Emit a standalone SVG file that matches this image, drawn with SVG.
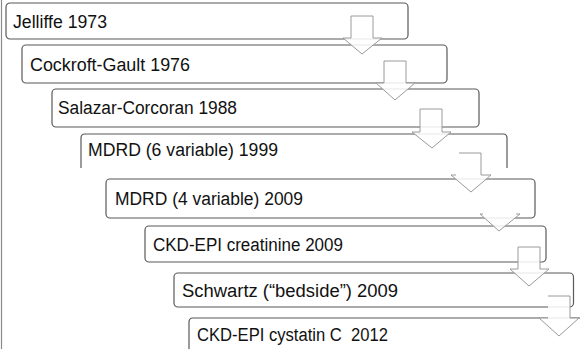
<svg xmlns="http://www.w3.org/2000/svg" width="580" height="349" viewBox="0 0 580 349">
  <defs>
    <style>
      .box { fill: #ffffff; stroke: #595959; stroke-width: 1.2; }
      .lbl { font-family: "Liberation Sans", Arial, sans-serif; font-size: 18px; fill: #111111; }
      .afill { fill: #ffffff; fill-opacity: 0.85; stroke: none; }
      .aline { fill: none; stroke: #9a9a9a; stroke-width: 1; stroke-linejoin: miter; }
      .frame { stroke: #8a8a8a; stroke-width: 1.2; }
    </style>
  </defs>
  <rect width="580" height="349" fill="#ffffff"/>
  <!-- left frame edge -->
  <line class="frame" x1="1.5" y1="0" x2="1.5" y2="349"/>

  <g id="step-jelliffe">
    <rect class="box" x="6" y="3" width="402" height="36" rx="4"/>
    <text class="lbl" x="13" y="28" textLength="94" lengthAdjust="spacingAndGlyphs">Jelliffe 1973</text>
  </g>
  <g id="step-cockroft-gault">
    <rect class="box" x="22" y="45" width="425" height="38" rx="4"/>
    <text class="lbl" x="30" y="71" textLength="160" lengthAdjust="spacingAndGlyphs">Cockroft-Gault 1976</text>
  </g>
  <g id="step-salazar-corcoran">
    <rect class="box" x="52" y="89" width="427" height="38" rx="4"/>
    <text class="lbl" x="58" y="114" textLength="179" lengthAdjust="spacingAndGlyphs">Salazar-Corcoran 1988</text>
  </g>
  <g id="step-mdrd6">
    <path class="box" d="M81,168 V138 Q81,134 85,134 H503 Q507,134 507,138 V168"/>
    <text class="lbl" x="88" y="156" textLength="190" lengthAdjust="spacingAndGlyphs">MDRD (6 variable) 1999</text>
  </g>
  <g id="step-mdrd4">
    <rect class="box" x="106" y="179" width="429" height="39" rx="4"/>
    <text class="lbl" x="115" y="205" textLength="188" lengthAdjust="spacingAndGlyphs">MDRD (4 variable) 2009</text>
  </g>
  <g id="step-ckd-epi-creatinine">
    <rect class="box" x="145" y="226" width="401" height="36" rx="4"/>
    <text class="lbl" x="153" y="251" textLength="190" lengthAdjust="spacingAndGlyphs">CKD-EPI creatinine 2009</text>
  </g>
  <g id="step-schwartz">
    <rect class="box" x="174" y="273" width="399.5" height="34" rx="4"/>
    <text class="lbl" x="182" y="297" textLength="216" lengthAdjust="spacingAndGlyphs">Schwartz (“bedside”) 2009</text>
  </g>
  <g id="step-ckd-epi-cystatin">
    <path class="box" d="M189,352 V322 Q189,318 193,318 H584 V352 Z"/>
    <text class="lbl" x="197" y="341" textLength="191" lengthAdjust="spacingAndGlyphs" xml:space="preserve">CKD-EPI cystatin C  2012</text>
  </g>

  <!-- down arrows between consecutive steps -->
  <g id="connectors">
    <polygon class="afill" points="351,16 373,16 373,38 382,38 362,54 343,38 351,38"/>
    <path class="aline" d="M351,16 H373 V38 H382 L362,54 L343,38 H351 Z"/>

    <polygon class="afill" points="384,61 406,61 406,83 415,83 395,100 376,83 384,83"/>
    <path class="aline" d="M384,61 H406 V83 H415 L395,100 L376,83 H384 Z"/>

    <polygon class="afill" points="420,109 442,109 442,132 451,132 432,148 412,132 420,132"/>
    <path class="aline" d="M420,109 H442 V132 H451 L432,148 L412,132 H420 Z"/>

    <polygon class="afill" points="459,153 481,153 481,175 491,175 471,192 451,175 459,175"/>
    <path class="aline" d="M459,153 H481" stroke="#d0d0d0"/>
    <path class="aline" d="M481,153 V175 H491 L471,192 L451,175 H456" stroke="#6e6e6e"/>

    <polygon class="afill" points="480,214 520,214 499,231"/>
    <path class="aline" d="M483,214 H480 L499,231 L520,214 H516" stroke="#808080"/>

    <polygon class="afill" points="518,247 540,247 540,269 549,269 529,286 510,269 518,269"/>
    <path class="aline" d="M540,269 V247 H518" stroke="#c4c4c4"/>
    <path class="aline" d="M518,247 V269 H510 L529,286 L549,269 H540" stroke="#7a7a7a"/>

    <polygon class="afill" points="548,296 570,296 570,318 579,318 559,336 539,318 548,318"/>
    <path class="aline" d="M548,296 H570 V318" stroke="#c4c4c4"/>
    <path class="aline" d="M570,318 H579 L559,336 L539,318 H548" stroke="#7a7a7a"/>
  </g>
</svg>
